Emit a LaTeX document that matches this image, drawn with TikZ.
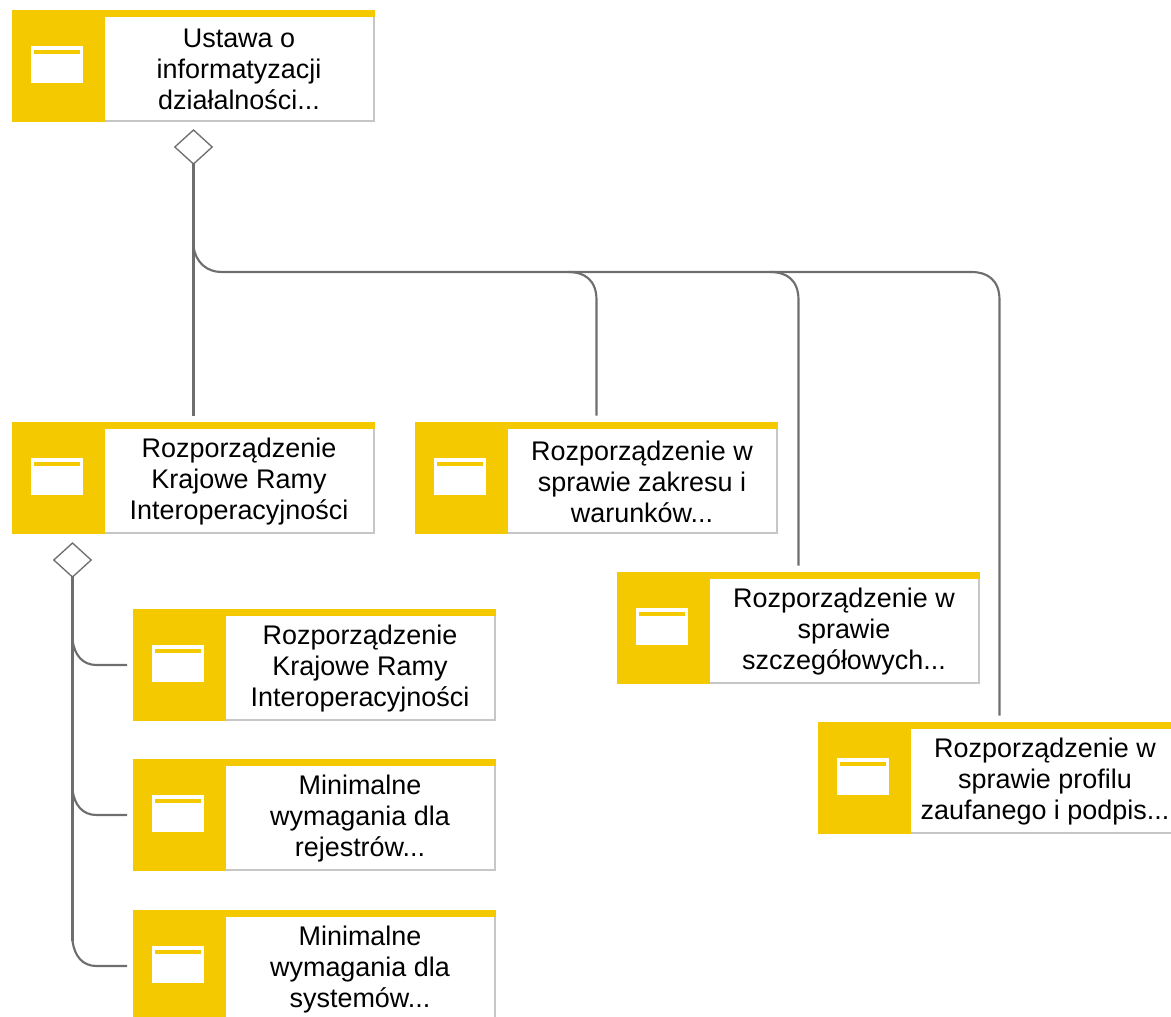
\documentclass[tikz,border=0pt]{standalone}
\usepackage{fontspec}
\setmainfont{Liberation Sans}
\usetikzlibrary{calc,shapes.geometric}
\definecolor{boxyellow}{HTML}{F5C900}
\definecolor{edgegray}{HTML}{C6C6C6}
\definecolor{linkgray}{HTML}{6E6E6E}
\tikzset{
  docframe/.style={rectangle,draw=none,fill=white,inner sep=0pt,outer sep=0pt,minimum width=272.25pt,minimum height=84pt,anchor=north west},
  doctext/.style={align=center,inner sep=0pt,font=\fontsize{20.2pt}{23.2pt}\selectfont,text=black},
  gate/.style={diamond,draw=linkgray,fill=white,line width=1pt,inner sep=0pt,outer sep=0pt,minimum width=28pt,minimum height=25.5pt,aspect=1.1},
  trunk/.style={draw=linkgray,line width=1.9pt},
  branch/.style={draw=linkgray,line width=1.6pt}
}
\newcommand{\docbox}[4]{%
  \node[docframe] (#1) at (#2,#3) {};
  \draw[edgegray,line width=1.5pt] ($(#1.north east)+(-1,0)$) -- ($(#1.south east)+(-1,-1)$) -- ($(#1.south west)+(0,-1)$);
  \fill[boxyellow] (#1.north west) rectangle ($(#1.north east)+(0,7)$);
  \fill[boxyellow] (#1.north west) rectangle ($(#1.south west)+(93,0)$);
  \fill[white] ($(#1.north west)+(19,36)$) rectangle ($(#1.north west)+(70.5,72.5)$);
  \fill[boxyellow] ($(#1.north west)+(21.5,40)$) rectangle ($(#1.north west)+(68,43.5)$);
  \node[doctext] (#1-label) at ($(#1.north west)+(227,59.5)$) {#4};
  \coordinate (#1-top) at ($(#1.north)+(0,-6.5)$);
  \coordinate (#1-side) at ($(#1.west)+(-6,0)$);
}
\begin{document}
\begin{tikzpicture}[x=0.75pt,y=-0.75pt]
\useasboundingbox (0,0) rectangle (1171,1017);
\clip (0,0) rectangle (1171,1017);
\docbox{law}{12}{10}{Ustawa o\\informatyzacji\\działalności...}
\docbox{kri}{12}{422}{Rozporządzenie\\Krajowe Ramy\\Interoperacyjności}
\docbox{scope}{415}{422}{Rozporządzenie w\\sprawie zakresu i\\warunków...}
\docbox{detail}{617}{572}{Rozporządzenie w\\sprawie\\szczegółowych...}
\docbox{profile}{818}{722}{Rozporządzenie w\\sprawie profilu\\zaufanego i podpis...}
\docbox{krisub}{133}{609}{Rozporządzenie\\Krajowe Ramy\\Interoperacyjności}
\docbox{registers}{133}{759}{Minimalne\\wymagania dla\\rejestrów...}
\docbox{systems}{133}{910}{Minimalne\\wymagania dla\\systemów...}
\node[gate] (lawgate) at (193.5,147) {};
\node[gate] (krigate) at (72.5,560) {};
% upper tree
\path[trunk] (lawgate.south) -- (kri-top -| lawgate.south);
\path[branch] ($(lawgate.south)+(0,82)$) .. controls ($(lawgate.south)+(2,99)$) and ($(lawgate.south)+(14,108)$) .. ($(lawgate.south)+(28,108)$) -- ($(scope-top|-lawgate.south)+(-28,108)$)
  .. controls ($(scope-top|-lawgate.south)+(-12,108)$) and ($(scope-top|-lawgate.south)+(0,116)$) .. ($(scope-top|-lawgate.south)+(0,136)$) -- (scope-top);
\path[branch] ($(scope-top|-lawgate.south)+(-28,108)$) -- ($(detail-top|-lawgate.south)+(-28,108)$)
  .. controls ($(detail-top|-lawgate.south)+(-12,108)$) and ($(detail-top|-lawgate.south)+(0,116)$) .. ($(detail-top|-lawgate.south)+(0,136)$) -- (detail-top);
\path[branch] ($(detail-top|-lawgate.south)+(-28,108)$) -- ($(profile-top|-lawgate.south)+(-28,108)$)
  .. controls ($(profile-top|-lawgate.south)+(-12,108)$) and ($(profile-top|-lawgate.south)+(0,116)$) .. ($(profile-top|-lawgate.south)+(0,136)$) -- (profile-top);
% lower tree
\path[trunk] (krigate.south) -- ($(krigate.south |- systems-side)+(0,-25)$);
\path[branch] ($(krigate.south |- krisub-side)+(0,-25)$) .. controls ($(krigate.south |- krisub-side)+(2,-10)$) and ($(krigate.south |- krisub-side)+(10,0)$) .. ($(krigate.south |- krisub-side)+(24,0)$) -- (krisub-side);
\path[branch] ($(krigate.south |- registers-side)+(0,-25)$) .. controls ($(krigate.south |- registers-side)+(2,-10)$) and ($(krigate.south |- registers-side)+(10,0)$) .. ($(krigate.south |- registers-side)+(24,0)$) -- (registers-side);
\path[branch] ($(krigate.south |- systems-side)+(0,-25)$) .. controls ($(krigate.south |- systems-side)+(2,-10)$) and ($(krigate.south |- systems-side)+(10,0)$) .. ($(krigate.south |- systems-side)+(24,0)$) -- (systems-side);
\end{tikzpicture}
\end{document}
